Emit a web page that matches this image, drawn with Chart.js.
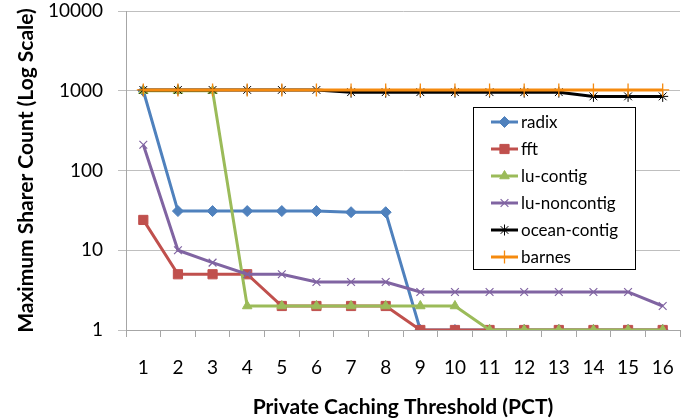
<!DOCTYPE html>
<html>
<head>
<meta charset="utf-8">
<script src="https://cdn.jsdelivr.net/npm/chart.js@4.4.0/dist/chart.umd.min.js"></script>
<style>
  body { margin: 0; background: #fff; }
  #wrap { width: 699px; height: 420px; }
</style>
</head>
<body>
<div id="wrap"><canvas id="myChart" width="699" height="420"></canvas></div>
<script>
const thresholds = ['1','2','3','4','5','6','7','8','9','10','11','12','13','14','15','16']
const radix = [1000, 31, 31, 31, 31, 31, 30, 30, 1, 1, 1, 1, 1, 1, 1, 1]
const fft = [24, 5, 5, 5, 2, 2, 2, 2, 1, 1, 1, 1, 1, 1, 1, 1]
const luContig = [1000, 1000, 1000, 2, 2, 2, 2, 2, 2, 2, 1, 1, 1, 1, 1, 1]
const luNoncontig = [210, 10, 7, 5, 5, 4, 4, 4, 3, 3, 3, 3, 3, 3, 3, 2]
const oceanContig = [1024, 1024, 1024, 1024, 1024, 1024, 960, 960, 960, 960, 960, 960, 960, 850, 850, 850]
const barnes = [1024, 1024, 1024, 1024, 1024, 1024, 1024, 1024, 1024, 1024, 1024, 1024, 1024, 1024, 1024, 1024]
const yTicks = [1, 10, 100, 1000, 10000]

const font = 'Lato, "Open Sans", sans-serif'

function series(label, data, color, style, radius, pbw, order) {
  return {
    label: label,
    data: data,
    borderColor: color,
    backgroundColor: color,
    pointBorderColor: color,
    pointBackgroundColor: color,
    pointStyle: style,
    pointRadius: radius,
    pointBorderWidth: pbw,
    borderWidth: 3,
    tension: 0,
    order: order
  }
}

// legend box drawn over the plot, like the original
const boxLegend = {
  id: 'boxLegend',
  afterDatasetsDraw(chart) {
    const c = chart.ctx
    const x0 = 473, y0 = 107, w = 162, h = 162
    c.save()
    c.fillStyle = '#fff'
    c.fillRect(x0, y0, w, h)
    c.strokeStyle = '#000'
    c.lineWidth = 1
    c.strokeRect(x0 + 0.5, y0 + 0.5, w, h)
    chart.data.datasets.forEach((ds, i) => {
      const y = 122 + i * 27
      c.strokeStyle = ds.borderColor
      c.lineWidth = 3
      c.beginPath()
      c.moveTo(491, y)
      c.lineTo(518, y)
      c.stroke()
      c.fillStyle = ds.pointBackgroundColor
      c.strokeStyle = ds.pointBorderColor
      c.lineWidth = ds.pointBorderWidth
      Chart.helpers.drawPoint(c, {
        pointStyle: ds.pointStyle, radius: ds.pointRadius, borderWidth: ds.pointBorderWidth
      }, 504.5, y)
      c.fillStyle = '#000'
      c.font = '17px ' + font
      c.textBaseline = 'middle'
      c.fillText(ds.label, 521, y + 1)
    })
    c.restore()
  }
}

const ctx = document.getElementById('myChart')
const myChart = new Chart(ctx, {
  type: 'line',
  data: {
    labels: thresholds,
    datasets: [
      series('radix', radix, '#4f81bd', 'rectRot', 5.5, 1, 6),
      series('fft', fft, '#c0504d', 'rect', 6.5, 1, 5),
      series('lu-contig', luContig, '#9bbb59', 'triangle', 5.5, 1, 4),
      series('lu-noncontig', luNoncontig, '#8064a2', 'crossRot', 5.5, 1.2, 3),
      series('ocean-contig', oceanContig, '#000000', 'star', 5.5, 1, 2),
      series('barnes', barnes, '#f58a0e', 'cross', 6.5, 1.3, 1)
    ]
  },
  plugins: [boxLegend],
  options: {
    responsive: false,
    animation: false,
    layout: { padding: { top: 0, right: 19, left: 0, bottom: 0 } },
    plugins: {
      legend: { display: false },
      tooltip: { enabled: false }
    },
    scales: {
      x: {
        offset: true,
        grid: { offset: true, drawOnChartArea: false, tickLength: 7, color: '#a6a6a6' },
        border: { color: '#a6a6a6' },
        ticks: { color: '#000', font: { family: font, size: 19 }, padding: 19 },
        title: {
          display: true, text: 'Private Caching Threshold (PCT)', color: '#000',
          font: { family: font, size: 21, weight: 'bold' }, padding: { top: 0, bottom: 0 }
        },
        afterFit(scale) { scale.height = 90 }
      },
      y: {
        type: 'logarithmic',
        min: 1,
        max: 10000,
        afterBuildTicks(scale) { scale.ticks = yTicks.map(v => ({ value: v })) },
        grid: { color: '#bfbfbf', tickLength: 8 },
        border: { color: '#a6a6a6' },
        ticks: {
          color: '#000', font: { family: font, size: 19 }, padding: 15,
          callback: v => String(v)
        },
        title: {
          display: true, text: 'Maximum Sharer Count (Log Scale)', color: '#000',
          font: { family: font, size: 21, weight: 'bold' }, padding: { top: 14, bottom: 0 }
        },
        afterFit(scale) {
          scale.width = 126
          scale.paddingTop = 11
        }
      }
    }
  }
})
</script>
</body>
</html>
